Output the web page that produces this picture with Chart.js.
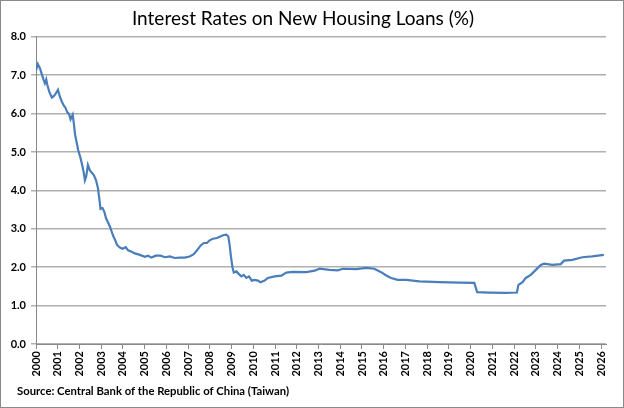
<!DOCTYPE html>
<html>
<head>
<meta charset="utf-8">
<script src="https://cdn.jsdelivr.net/npm/chart.js@4.4.1/dist/chart.umd.min.js"></script>
<style>
  html, body { margin: 0; padding: 0; background: #fff; }
  #wrap { width: 624px; height: 408px; position: relative; }
</style>
</head>
<body>
<div id="wrap"><canvas id="myChart" width="624" height="408"></canvas></div>
<script>
// 데이터 (연도 소수점, 금리 %)
const years = [
  2000.00, 2000.08, 2000.18, 2000.28, 2000.35, 2000.41, 2000.47, 2000.52, 2000.61, 2000.73,
  2000.83, 2000.92, 2001.01, 2001.10, 2001.19, 2001.29, 2001.35, 2001.44, 2001.52, 2001.59,
  2001.69, 2001.75, 2001.80, 2001.86, 2001.94, 2002.05, 2002.14, 2002.20, 2002.25, 2002.31,
  2002.39, 2002.48, 2002.57, 2002.66, 2002.76, 2002.85, 2002.91, 2002.97, 2003.06, 2003.14,
  2003.22, 2003.32, 2003.40, 2003.48, 2003.55, 2003.64, 2003.73, 2003.86, 2003.98, 2004.13,
  2004.24, 2004.40, 2004.55, 2004.78, 2005.01, 2005.16, 2005.31, 2005.51, 2005.73, 2005.93,
  2006.16, 2006.39, 2006.61, 2006.84, 2007.07, 2007.26, 2007.41, 2007.57, 2007.72, 2007.87,
  2007.99, 2008.14, 2008.33, 2008.48, 2008.64, 2008.76, 2008.85, 2008.91, 2008.97, 2009.04,
  2009.10, 2009.22, 2009.34, 2009.45, 2009.56, 2009.68, 2009.80, 2009.93, 2010.06, 2010.21,
  2010.33, 2010.52, 2010.67, 2010.98, 2011.29, 2011.52, 2011.82, 2012.44, 2012.82, 2013.05,
  2013.51, 2013.89, 2014.12, 2014.73, 2015.19, 2015.57, 2015.88, 2016.10, 2016.34, 2016.64,
  2017.03, 2017.64, 2018.56, 2019.48, 2020.17, 2020.24, 2020.30, 2020.86, 2021.62, 2022.13,
  2022.20, 2022.39, 2022.54, 2022.77, 2023.00, 2023.23, 2023.38, 2023.76, 2024.15, 2024.30,
  2024.68, 2025.14, 2025.60, 2026.13
];
const rates = [
  7.12, 7.29, 7.18, 7.00, 6.88, 6.79, 6.89, 6.75, 6.57, 6.42,
  6.46, 6.53, 6.62, 6.44, 6.31, 6.20, 6.16, 6.03, 5.99, 5.85,
  5.97, 5.70, 5.45, 5.28, 5.05, 4.84, 4.62, 4.45, 4.26, 4.36,
  4.66, 4.52, 4.46, 4.40, 4.27, 4.06, 3.80, 3.52, 3.54, 3.45,
  3.28, 3.16, 3.06, 2.93, 2.82, 2.71, 2.58, 2.51, 2.48, 2.52,
  2.44, 2.40, 2.36, 2.32, 2.27, 2.30, 2.25, 2.30, 2.30, 2.26,
  2.28, 2.24, 2.25, 2.25, 2.28, 2.34, 2.44, 2.56, 2.63, 2.63,
  2.70, 2.74, 2.76, 2.80, 2.84, 2.85, 2.80, 2.58, 2.28, 2.00,
  1.86, 1.89, 1.82, 1.76, 1.80, 1.72, 1.76, 1.65, 1.67, 1.65,
  1.61, 1.65, 1.72, 1.76, 1.78, 1.86, 1.88, 1.87, 1.91, 1.96,
  1.93, 1.92, 1.96, 1.95, 1.98, 1.96, 1.87, 1.79, 1.72, 1.67,
  1.67, 1.63, 1.61, 1.60, 1.59, 1.46, 1.35, 1.34, 1.33, 1.34,
  1.54, 1.61, 1.72, 1.80, 1.93, 2.06, 2.09, 2.06, 2.08, 2.17,
  2.19, 2.26, 2.28, 2.32
];
const yearTicks = [];
for (let y = 2000; y <= 2026; y++) yearTicks.push(y);
const yTicks = [0, 1, 2, 3, 4, 5, 6, 7, 8];

const titleText = "Interest Rates on New Housing Loans (%)";
const sourceText = "Source: Central Bank of the Republic of China (Taiwan)";

const points = years.map((x, i) => ({ x: x, y: rates[i] }));

// 테두리 + 출처 텍스트
const framePlugin = {
  id: "frame",
  beforeDraw(chart) {
    const c = chart.ctx;
    c.save();
    c.fillStyle = "#fff";
    c.fillRect(0, 0, chart.width, chart.height);
    c.restore();
  },
  afterDraw(chart) {
    const c = chart.ctx;
    c.save();
    c.strokeStyle = "#898989";
    c.lineWidth = 1;
    c.strokeRect(0.5, 0.5, chart.width - 1, chart.height - 1);
    c.fillStyle = "#000";
    c.font = "bold 11.3px Lato";
    c.textBaseline = "middle";
    c.textAlign = "left";
    c.fillText(sourceText, 17, 391);
    c.restore();
  }
};

const ctx = document.getElementById("myChart").getContext("2d");
const myChart = new Chart(ctx, {
  type: "line",
  data: {
    datasets: [
      {
        label: "rate",
        data: points,
        borderColor: "#4a7ebb",
        borderWidth: 2.2,
        pointRadius: 0,
        tension: 0,
        fill: false,
      },
    ],
  },
  options: {
    responsive: false,
    animation: false,
    layout: { padding: { left: 0, right: 18, top: 0, bottom: 30 } },
    plugins: {
      legend: { display: false },
      tooltip: { enabled: false },
      title: {
        display: true,
        text: titleText,
        color: "#000",
        font: { family: "Lato", size: 19, weight: "normal" },
        padding: { top: 7, bottom: 7 },
      },
    },
    scales: {
      x: {
        type: "linear",
        min: 2000,
        max: 2026.23,
        afterBuildTicks: (s) => { s.ticks = yearTicks.map((v) => ({ value: v })); },
        afterFit: (s) => { s.height = 34; },
        ticks: {
          minRotation: 90,
          maxRotation: 90,
          autoSkip: false,
          color: "#000",
          padding: 2,
          font: { family: "Lato", size: 11, weight: "bold" },
          callback: (v) => String(v),
        },
        grid: { drawOnChartArea: false, tickLength: 5, color: "#898989" },
        border: { color: "#898989" },
      },
      y: {
        min: 0,
        max: 8,
        afterBuildTicks: (s) => { s.ticks = yTicks.map((v) => ({ value: v })); },
        afterFit: (s) => { s.width = 36; },
        ticks: {
          color: "#000",
          padding: 5,
          font: { family: "Lato", size: 11, weight: "bold" },
          callback: (v) => v.toFixed(1),
        },
        grid: { color: "#b0b0b0", lineWidth: 1.5, tickLength: 5 },
        border: { color: "#898989" },
      },
    },
  },
  plugins: [framePlugin],
});
</script>
</body>
</html>
